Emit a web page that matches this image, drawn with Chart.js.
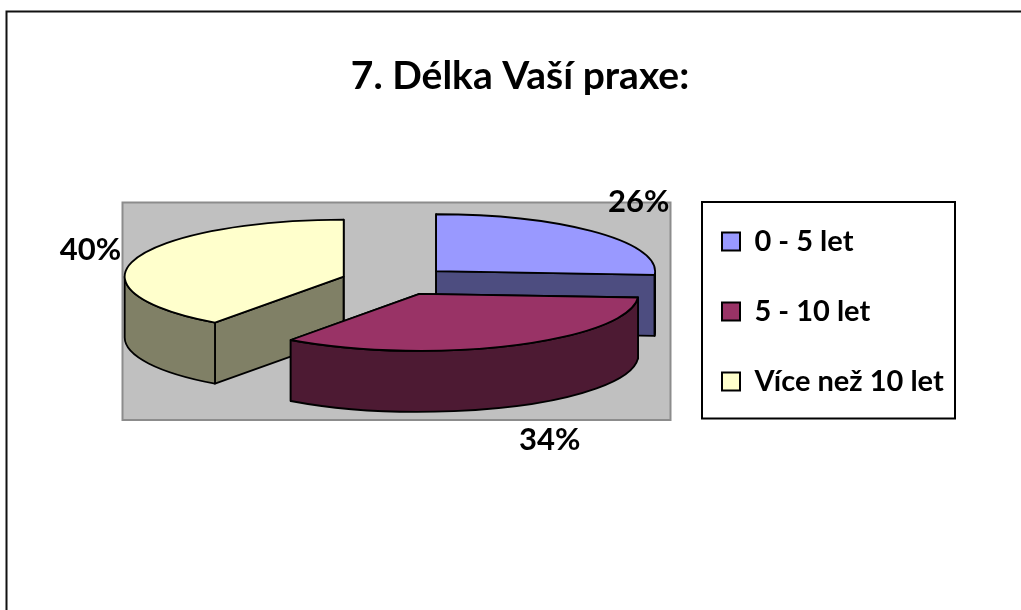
<!DOCTYPE html>
<html><head><meta charset="utf-8">
<style>html,body{margin:0;padding:0;background:#fff}#w{width:1021px;height:610px}</style>
<script src="https://cdn.jsdelivr.net/npm/chart.js@4"></script>
</head><body><div id="w"><canvas id="c" width="1021" height="610"></canvas></div>
<script>
const chartTitle = '7. Délka Vaší praxe:';
const categories = ['0 - 5 let', '5 - 10 let', 'Více než 10 let'];
const shares = [26, 34, 40];
const topColors = ['#9999FF', '#993366', '#FFFFCC'];
const wallColors = ['#4D4D80', '#4D1A33', '#808066'];
const labelNudges = [[43, -30], [37, 95], [-45, -9]];
const wallOrder = [0, 2, 1];

const SQUASH = 0.26, DEPTH = 61, EXPLODE = 55;
const LEGEND_PAD = 41;

function frame(ctx, x, y, w, h, fill, stroke, lw) {
  ctx.save();
  if (fill) { ctx.fillStyle = fill; ctx.fillRect(x, y, w, h); }
  ctx.strokeStyle = stroke; ctx.lineWidth = lw; ctx.strokeRect(x, y, w, h);
  ctx.restore();
}
function geom(el) {
  const p = el.getProps(['x', 'y', 'startAngle', 'endAngle', 'outerRadius'], true);
  const mid = (p.startAngle + p.endAngle) / 2;
  return { s: p.startAngle, e: p.endAngle, r: p.outerRadius, mid,
    ax: p.x + EXPLODE * Math.cos(mid), ay: p.y + SQUASH * EXPLODE * Math.sin(mid) };
}
function drawWalls(ctx, g, color) {
  ctx.fillStyle = color;
  [g.s, g.e].forEach(t => {
    const ex = g.ax + g.r * Math.cos(t), ey = g.ay + SQUASH * g.r * Math.sin(t);
    ctx.beginPath();
    ctx.moveTo(g.ax, g.ay); ctx.lineTo(ex, ey);
    ctx.lineTo(ex, ey + DEPTH); ctx.lineTo(g.ax, g.ay + DEPTH);
    ctx.closePath(); ctx.fill(); ctx.stroke();
  });
  const a0 = Math.max(g.s, 0), a1 = Math.min(g.e, Math.PI);
  if (a1 > a0) {
    ctx.beginPath();
    ctx.ellipse(g.ax, g.ay, g.r, SQUASH * g.r, 0, a0, a1);
    ctx.ellipse(g.ax, g.ay + DEPTH, g.r, SQUASH * g.r, 0, a1, a0, true);
    ctx.closePath(); ctx.fill(); ctx.stroke();
  }
}
function drawTop(ctx, g, color) {
  ctx.fillStyle = color;
  ctx.beginPath();
  ctx.moveTo(g.ax, g.ay);
  ctx.ellipse(g.ax, g.ay, g.r, SQUASH * g.r, 0, g.s, g.e);
  ctx.closePath(); ctx.fill(); ctx.stroke();
}
const pie3d = {
  id: 'pie3d',
  beforeDraw(chart) {
    const ctx = chart.ctx;
    ctx.save();
    ctx.strokeStyle = '#111'; ctx.lineWidth = 2;
    ctx.beginPath(); ctx.moveTo(6.5, 612); ctx.lineTo(6.5, 11.5); ctx.lineTo(1023, 11.5); ctx.stroke();
    ctx.restore();
    frame(ctx, 122.5, 202.5, 548, 217.5, '#C0C0C0', '#8C8C8C', 2);
    frame(ctx, 702, 202, 253, 216.5, '#FFFFFF', '#000000', 2);
  },
  afterLayout(chart) {
    const t = chart.titleBlock; t.left = 0; t.right = 1040;
    const l = chart.legend;
    l.left = 722 - LEGEND_PAD; l.right = 1000;
    l.top = 227 - LEGEND_PAD; l.bottom = 605;
    l.width = l.right - l.left; l.height = l.bottom - l.top;
    l.adjustHitBoxes && l.adjustHitBoxes();
  },
  beforeDatasetDraw(chart, args) {
    const ctx = chart.ctx, arcs = args.meta.data;
    ctx.save();
    ctx.strokeStyle = '#000'; ctx.lineWidth = 1.8; ctx.lineJoin = 'round';
    wallOrder.forEach(i => drawWalls(ctx, geom(arcs[i]), wallColors[i]));
    wallOrder.forEach(i => drawTop(ctx, geom(arcs[i]), arcs[i].options.backgroundColor));
    ctx.fillStyle = '#000'; ctx.font = 'bold 31px Lato';
    ctx.textAlign = 'center'; ctx.textBaseline = 'middle';
    arcs.forEach((a, i) => {
      const g = geom(a);
      const x = g.ax + g.r * Math.cos(g.mid) + labelNudges[i][0];
      const y = g.ay + SQUASH * g.r * Math.sin(g.mid) + labelNudges[i][1];
      ctx.fillText(shares[i] + '%', x, y);
    });
    ctx.restore();
    return false;
  }
};
new Chart(document.getElementById('c'), {
  type: 'pie',
  plugins: [pie3d],
  data: { labels: categories, datasets: [{ data: shares, backgroundColor: topColors,
    borderColor: '#000000', borderWidth: 2 }] },
  options: {
    responsive: false, animation: false, events: [], radius: 219,
    layout: { padding: { left: 0, right: 229, top: 10, bottom: 147.8 } },
    plugins: {
      tooltip: { enabled: false },
      title: { display: true, text: chartTitle, color: '#000',
        font: { family: 'Lato', size: 39, weight: 'bold' }, padding: { top: 43, bottom: 0 } },
      legend: { display: true, position: 'chartArea', align: 'start',
        labels: { boxWidth: 18, boxHeight: 18, padding: LEGEND_PAD, color: '#000',
          font: { family: 'Lato', size: 29, weight: 'bold' } } }
    }
  }
});
</script></body></html>
